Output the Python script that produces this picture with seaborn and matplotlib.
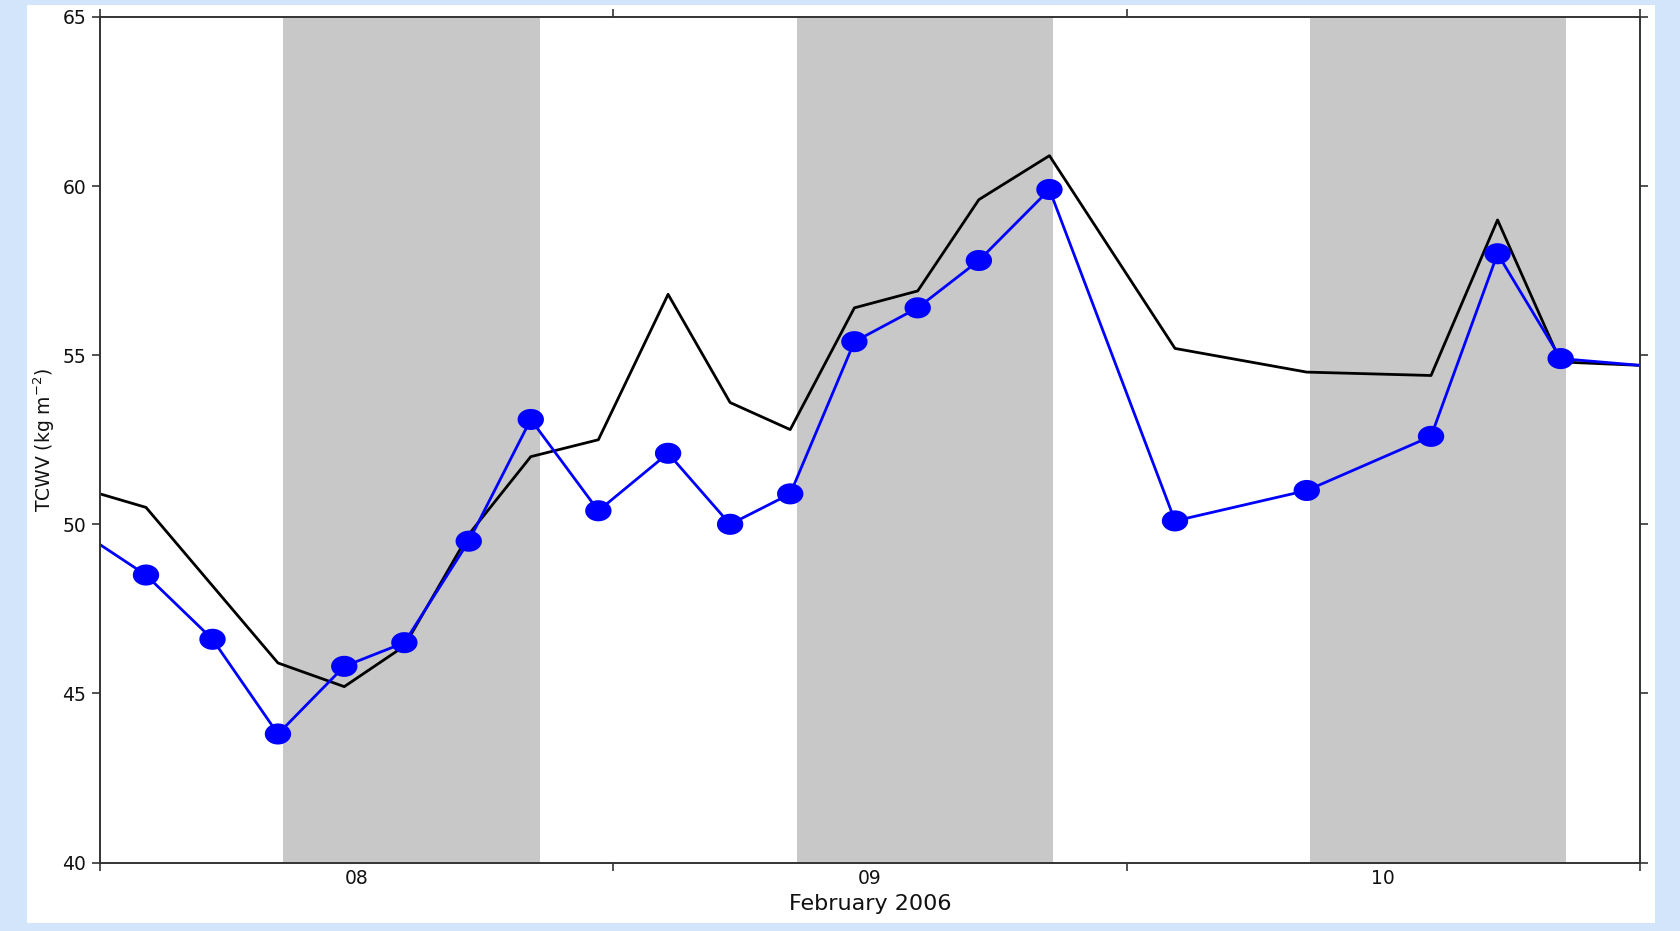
import numpy as np
import pandas as pd
import matplotlib
matplotlib.use("Agg")
import matplotlib.pyplot as plt
import seaborn as sns
from matplotlib.path import Path
from matplotlib.patches import Rectangle

# Time axis: hours since 2006-02-08 00:00
model_hours = [0.0, 2.15, 8.32, 11.42, 14.23, 17.24, 20.14, 23.30, 26.56, 29.46, 32.27,
               35.27, 38.23, 41.09, 44.39, 50.26, 56.42, 62.23, 65.34, 68.29, 72.0]
model_tcwv = [50.9, 50.5, 45.9, 45.2, 46.4, 49.7, 52.0, 52.5, 56.8, 53.6, 52.8,
              56.4, 56.9, 59.6, 60.9, 55.2, 54.5, 54.4, 59.0, 54.8, 54.7]

obs_hours = [0.0, 2.15, 5.26, 8.32, 11.42, 14.23, 17.24, 20.14, 23.30, 26.56, 29.46,
             32.27, 35.27, 38.23, 41.09, 44.39, 50.26, 56.42, 62.23, 65.34, 68.29, 72.0]
obs_tcwv = [49.4, 48.5, 46.6, 43.8, 45.8, 46.5, 49.5, 53.1, 50.4, 52.1, 50.0,
            50.9, 55.4, 56.4, 57.8, 59.9, 50.1, 51.0, 52.6, 58.0, 54.9, 54.7]

night_start = [8.57, 32.57, 56.57]
night_end = [20.55, 44.55, 68.55]

day_boundaries = [0, 24, 48, 72]
day_centres = [12, 36, 60]
day_labels = ["08", "09", "10"]
y_ticks = [40, 45, 50, 55, 60, 65]

sns.set_theme(style="ticks")
plt.rcParams['font.family'] = ['DejaVu Sans']
plt.rcParams['mathtext.default'] = 'regular'

model = pd.DataFrame({"hours": model_hours, "tcwv": model_tcwv})
obs = pd.DataFrame({"hours": obs_hours, "tcwv": obs_tcwv})
obs_pts = obs.iloc[1:-1]

W, H = 1680, 931
fig = plt.figure(figsize=(W / 100, H / 100), dpi=100)
fig.patch.set_facecolor('#d3e5fb')
fig.add_artist(Rectangle((27 / W, 1 - 923 / H), (1655 - 27) / W, (923 - 5) / H,
                         transform=fig.transFigure, facecolor='white',
                         edgecolor='none', zorder=0))

ax = fig.add_axes([100 / W, 1 - 862.5 / H, 1540 / W, (862.5 - 17) / H])
ax.set_facecolor('white')

for s, e in zip(night_start, night_end):
    ax.axvspan(s, e, color='#c8c8c8', lw=0, zorder=0)

sns.lineplot(data=model, x="hours", y="tcwv", color='black', lw=2, ax=ax,
             sort=False, zorder=2)
sns.lineplot(data=obs, x="hours", y="tcwv", color='#0000ff', lw=2, ax=ax,
             sort=False, zorder=3)

theta = np.linspace(0, 2 * np.pi, 80)
ell = Path(np.column_stack([np.cos(theta), 0.8 * np.sin(theta)]), closed=True)
sns.scatterplot(data=obs_pts, x="hours", y="tcwv", color='#0000ff', marker=ell,
                s=360, edgecolor='none', linewidth=0, ax=ax, zorder=4)

ax.set_xlim(0, 72)
ax.set_ylim(40, 65)

ax.set_xticks(day_boundaries)
ax.set_xticklabels([])
ax.set_xticks(day_centres, minor=True)
ax.set_xticklabels(day_labels, minor=True)
ax.set_yticks(y_ticks)
ax.set_yticklabels([str(v) for v in y_ticks])

ax.tick_params(axis='x', which='major', direction='out', length=6, width=1.2,
               color='#333333', top=True, bottom=True)
ax.tick_params(axis='x', which='minor', length=0, labelsize=13.5, pad=5,
               labelcolor='#111111')
ax.tick_params(axis='y', which='major', direction='out', length=6, width=1.2,
               color='#333333', left=True, right=True, labelsize=13.5, pad=4,
               labelcolor='#111111')

for sp in ax.spines.values():
    sp.set_visible(True)
    sp.set_color('#333333')
    sp.set_linewidth(1.4)
    sp.set_zorder(5)

ax.set_xlabel("February 2006", fontsize=16, labelpad=4, color='#111111')
ax.set_ylabel("TCWV (kg m$^{-2}$)", fontsize=13.5, labelpad=4, color='#111111')
ax.grid(False)

fig.savefig("out.png", dpi=100, facecolor=fig.get_facecolor())
